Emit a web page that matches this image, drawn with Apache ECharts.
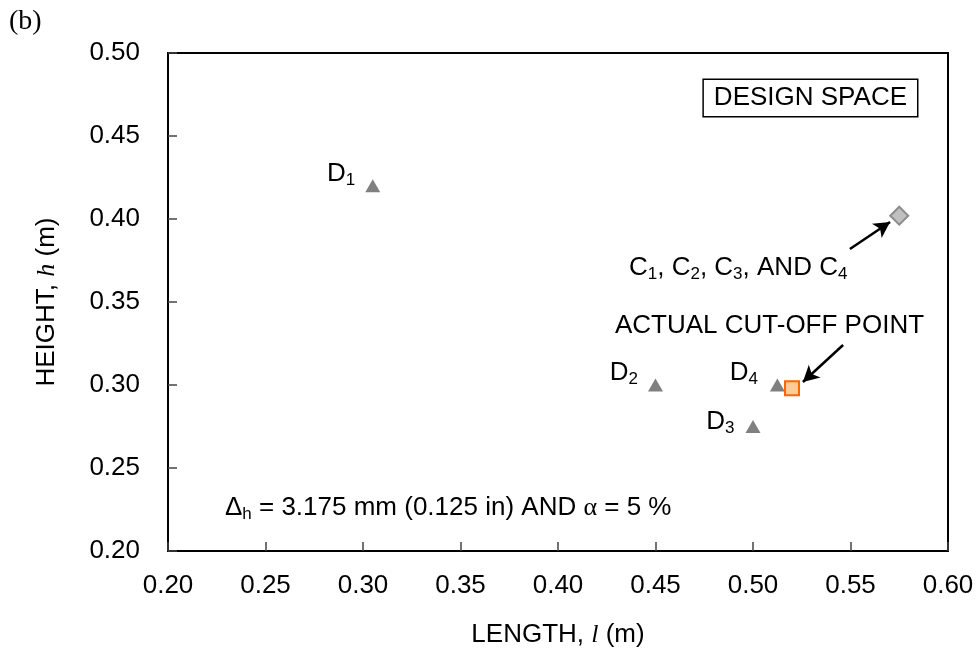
<!DOCTYPE html>
<html><head><meta charset="utf-8">
<script src="https://cdn.jsdelivr.net/npm/echarts@6/dist/echarts.min.js"></script>
<style>html,body{margin:0;padding:0;background:#fff}#c{width:979px;height:656px}</style>
</head><body><div id="c"></div>
<script>
// ---- data ----
const xMin = 0.20, xMax = 0.60, xStep = 0.05;
const yMin = 0.20, yMax = 0.50, yStep = 0.05;
const dSubs = ['1', '2', '3', '4'];
const dLength = [0.305, 0.45, 0.50, 0.5125];
const dHeight = [0.42, 0.30, 0.275, 0.30];
const cLength = [0.575];
const cHeight = [0.402];
const cutLength = [0.52];
const cutHeight = [0.298];
// annotation anchors (data coordinates)
const arrowC = [[0.5497, 0.3819], [0.5703, 0.3982]];
const arrowCut = [[0.5462, 0.3241], [0.5256, 0.3018]];
const cLabelAt = [0.4364, 0.3705];
const cutLabelAt = [0.4292, 0.3355];
const noteAt = [0.2292, 0.2259];
const boxAt = [0.5841, 0.4837];
// label layout (pixels) for D points
const dLabelDist = [10, 10, 11, 12];
const dLabelDy = [-12, -12, -5, -12];

const FS = 26, SUB = 17;
const sans = '"Liberation Sans", Arial, sans-serif';
const serif = '"Liberation Serif", "Times New Roman", serif';
const rich = {
  n: {fontFamily: sans, fontSize: FS, color: '#000', lineHeight: 30},
  s: {fontFamily: sans, fontSize: SUB, color: '#000', lineHeight: 17, verticalAlign: 'bottom'},
  i: {fontFamily: serif, fontSize: FS, fontStyle: 'italic', color: '#000', lineHeight: 30},
  g: {fontFamily: serif, fontSize: FS, color: '#000', lineHeight: 30}
};

const chart = echarts.init(document.getElementById('c'), null, {renderer: 'canvas'});
const fmt = v => v.toFixed(2);

const option = {
  animation: false,
  backgroundColor: '#fff',
  grid: {left: 168, right: 31, top: 53, bottom: 105, show: true, borderColor: '#000', borderWidth: 2, backgroundColor: 'transparent'},
  xAxis: {
    type: 'value', min: xMin, max: xMax, interval: xStep,
    name: '{n|LENGTH, }{i|l}{n| (m)}', nameLocation: 'middle', nameGap: 69,
    nameTextStyle: {rich: rich},
    axisLine: {show: true, lineStyle: {color: '#000', width: 2}},
    axisTick: {show: true, inside: true, length: 9, lineStyle: {color: '#444', width: 1.5}},
    axisLabel: {formatter: fmt, fontFamily: sans, fontSize: FS, color: '#000', margin: 22},
    splitLine: {show: false}
  },
  yAxis: {
    type: 'value', min: yMin, max: yMax, interval: yStep,
    name: '{n|HEIGHT, }{i|h}{n| (m)}', nameLocation: 'middle', nameGap: 106, nameRotate: 90,
    nameTextStyle: {rich: rich},
    axisLine: {show: true, lineStyle: {color: '#000', width: 2}},
    axisTick: {show: true, inside: true, length: 9, lineStyle: {color: '#444', width: 1.5}},
    axisLabel: {formatter: fmt, fontFamily: sans, fontSize: FS, color: '#000', margin: 28},
    splitLine: {show: false}
  },
  series: [
    {
      type: 'scatter', name: 'D', symbol: 'triangle', symbolSize: [15, 13],
      itemStyle: {color: '#808080', opacity: 1},
      data: dLength.map((x, i) => ({
        value: [x, dHeight[i]],
        label: {show: true, position: 'left', distance: dLabelDist[i], offset: [0, dLabelDy[i]],
          color: '#000', formatter: '{n|D}{s|' + dSubs[i] + '}', rich: rich}
      }))
    },
    {
      type: 'scatter', name: 'C', symbol: 'diamond', symbolSize: [18, 18],
      itemStyle: {color: '#C0C0C0', borderColor: '#8C8C8C', borderWidth: 2, opacity: 1},
      data: cLength.map((x, i) => [x, cHeight[i]])
    },
    {
      type: 'scatter', name: 'Cut', symbol: 'rect', symbolSize: [14, 14],
      itemStyle: {color: '#FFCC99', borderColor: '#FF6600', borderWidth: 2, opacity: 1},
      data: cutLength.map((x, i) => [x, cutHeight[i]]),
      z: 3
    },
    {
      type: 'scatter', name: 'arrows', data: [], silent: true,
      markLine: {
        silent: true, animation: false,
        symbol: ['none', 'arrow'], symbolSize: [13, 16],
        label: {show: false},
        lineStyle: {color: '#000', width: 2.5, type: 'solid', opacity: 1},
        data: [
          [{coord: arrowC[0]}, {coord: arrowC[1]}],
          [{coord: arrowCut[0]}, {coord: arrowCut[1]}]
        ]
      }
    }
  ]
};
chart.setOption(option);

function px(p) { return chart.convertToPixel({gridIndex: 0}, p); }
const pC = px(cLabelAt), pCut = px(cutLabelAt), pNote = px(noteAt), pBox = px(boxAt);
chart.setOption({
  graphic: [
    {type: 'text', left: 9, top: 8, style: {text: '(b)', font: '28px ' + serif, fill: '#000'}},
    {type: 'text', x: pC[0], y: pC[1], style: {
      text: '{n|C}{s|1}{n|, C}{s|2}{n|, C}{s|3}{n|, AND C}{s|4}', rich: rich, verticalAlign: 'middle', align: 'left'}},
    {type: 'text', x: pCut[0], y: pCut[1], style: {
      text: '{n|ACTUAL CUT-OFF POINT}', rich: rich, verticalAlign: 'middle', align: 'left'}},
    {type: 'text', x: pNote[0], y: pNote[1], style: {
      text: '{n|Δ}{s|h}{n| = 3.175 mm (0.125 in) AND }{g|α}{n| = 5 %}', rich: rich, verticalAlign: 'middle', align: 'left'}},
    {type: 'text', x: pBox[0], y: pBox[1], style: {
      text: 'DESIGN SPACE', font: FS + 'px ' + sans, fill: '#000', align: 'right', verticalAlign: 'top',
      padding: [5, 10, 5, 10], borderColor: '#000', borderWidth: 1.5, backgroundColor: '#fff'}}
  ]
});
</script>
</body></html>
